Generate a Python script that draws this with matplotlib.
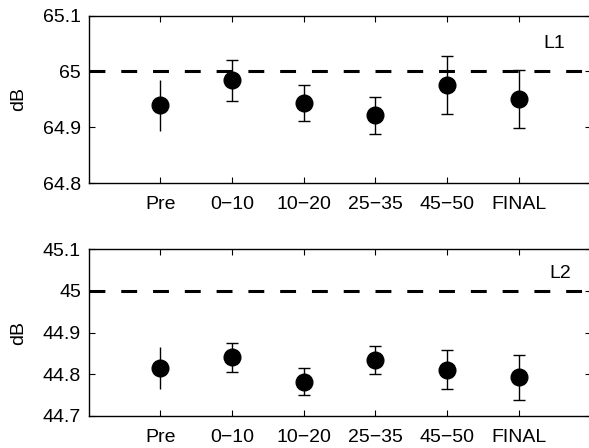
import numpy as np
import matplotlib
matplotlib.use('Agg')
import matplotlib.pyplot as plt

# Data
labels = ['Pre', '0\u221210', '10\u221220', '25\u221235', '45\u221250', 'FINAL']
l1_mean = [64.939, 64.984, 64.943, 64.921, 64.976, 64.951]
l1_err = [0.046, 0.037, 0.032, 0.033, 0.052, 0.052]
l2_mean = [44.815, 44.840, 44.782, 44.834, 44.811, 44.792]
l2_err = [0.051, 0.035, 0.032, 0.034, 0.047, 0.054]

plt.rcParams['font.family'] = ['Liberation Sans', 'DejaVu Sans']
plt.rcParams['font.size'] = 14

fig = plt.figure(figsize=(5.89, 4.48), dpi=100)
ax1 = fig.add_axes([0.1506, 0.5915, 0.852, 0.3739])
ax2 = fig.add_axes([0.1506, 0.0721, 0.852, 0.3714])

panels = [
    (ax1, l1_mean, l1_err, 65.0, (64.8, 65.1), [64.8, 64.9, 65.0, 65.1], ['64.8', '64.9', '65', '65.1'], 'L1', 6.34, 65.049),
    (ax2, l2_mean, l2_err, 45.0, (44.7, 45.1), [44.7, 44.8, 44.9, 45.0, 45.1], ['44.7', '44.8', '44.9', '45', '45.1'], 'L2', 6.43, 45.042),
]

x = np.arange(1, len(labels) + 1)
for ax, mean, err, ref, ylim, yt, ytl, tag, tx, ty in panels:
    ax.axhline(ref, color='black', lw=2.2, dashes=(5.2, 5.2))
    # Pre has no caps in the original
    ax.errorbar(x[:1], mean[:1], yerr=err[:1], fmt='o', color='black', ms=12,
                elinewidth=1, capsize=0)
    ax.errorbar(x[1:], mean[1:], yerr=err[1:], fmt='o', color='black', ms=12,
                elinewidth=1, capsize=4.3, capthick=1)
    ax.set_xlim(0, 7)
    ax.set_ylim(*ylim)
    ax.set_xticks(x)
    ax.set_xticklabels(labels)
    ax.set_yticks(yt)
    ax.set_yticklabels(ytl)
    ax.tick_params(direction='in', top=True, right=True, length=4, width=0.8)
    ax.tick_params(axis='x', pad=9.5)
    ax.tick_params(axis='y', pad=5.5)
    for s in ax.spines.values():
        s.set_linewidth(1.0)
    ax.set_ylabel('dB')
    ax.yaxis.set_label_coords(-0.123, 0.5)
    ax.text(tx, ty, tag, ha='left', va='center')

fig.savefig('out.png', dpi=100)
